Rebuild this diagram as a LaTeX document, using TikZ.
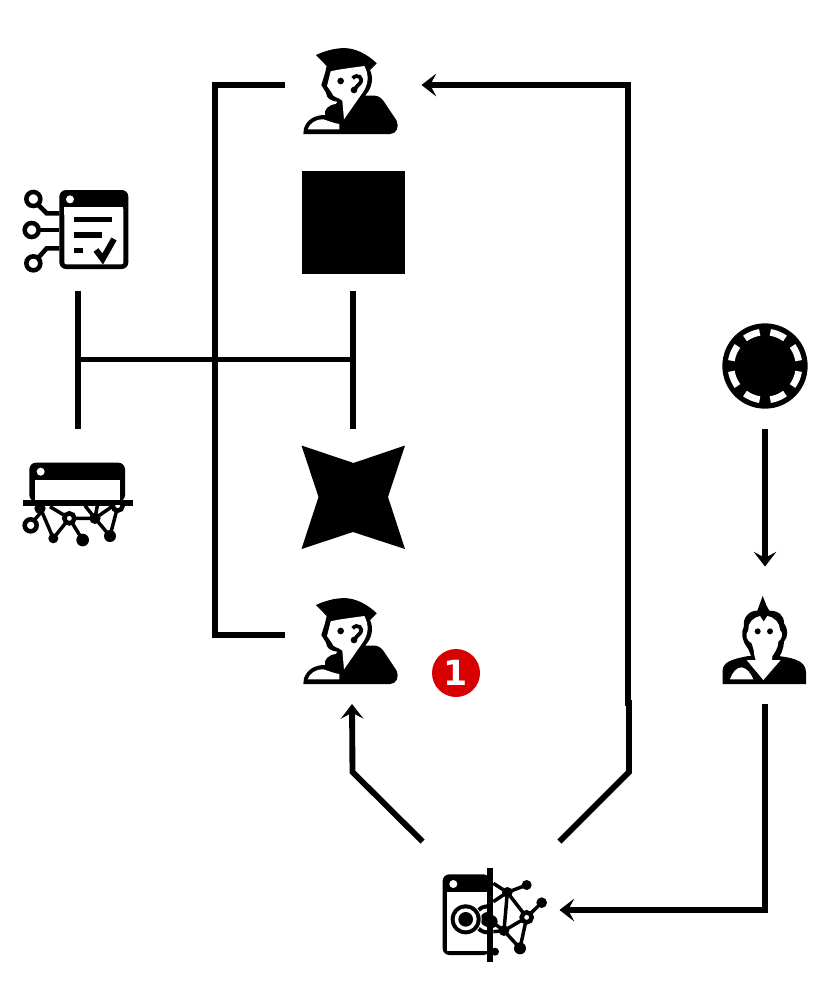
\documentclass[tikz,border=0pt]{standalone}
\usepackage{fontspec}
\setmainfont{DejaVu Sans}
\usetikzlibrary{arrows.meta}
\definecolor{badgered}{HTML}{D80000}
\tikzset{
  iconbox/.style={inner sep=0pt,outer sep=0pt,minimum width=102.75pt,minimum height=102.75pt},
  conn/.style={line width=4.4pt,line join=miter},
  arrowconn/.style={conn,-{Stealth[length=11pt,width=17pt,inset=4.5pt]}},
  zoomed/.style={x=.25pt,y=-.25pt},
  wire/.style={line width=2.6pt},
  ringline/.style={line width=3.4pt},
}
\newcommand{\personicon}[2]{%
\begin{scope}[shift={(#1,#2)},zoomed]
\fill[black] (108,75) .. controls (140,60) and (175,52) .. (205,55) .. controls (240,60) and (270,80) .. (290,100) -- (270,120) .. controls (282,145) and (276,175) .. (255,197) -- (285,197) .. controls (297,198) and (305,205) .. (312,215) -- (350,272) .. controls (358,290) and (350,312) .. (330,312) -- (70,312) -- (72,295) .. controls (80,272) and (100,255) .. (135,255) .. controls (132,238) and (145,225) .. (168,222) -- (172,215) .. controls (150,212) and (140,205) .. (138,188) -- (124,165) -- (135,130) -- (140,108) -- cycle;
\fill[white] (152,124) .. controls (175,118) and (225,112) .. (253,108) .. controls (268,135) and (266,165) .. (245,192) -- (192,268) -- (187,212) .. controls (175,200) and (160,205) .. (155,188) -- (141,168) -- cycle;
\fill[white] (83,298) .. controls (90,280) and (105,268) .. (130,268) .. controls (145,272) and (160,280) .. (178,282) -- (178,298) -- cycle;
\fill[black] (182,153) circle (10);
\draw[black,line width=2.8pt] (218,145) .. controls (232,128) and (252,145) .. (240,160) .. controls (234,167) and (228,170) .. (224,178);
\fill[black] (222,180) circle (10);
\end{scope}}
\newcommand{\checklisticon}{%
\begin{scope}[shift={(10,175)},zoomed]
\fill[black,rounded corners=5pt] (148,45) rectangle (355,282);
\fill[white,rounded corners=1.5pt] (163,97) rectangle (340,268);
\fill[white] (163,97) rectangle (340,120);
\fill[white] (180,73) circle (12);
\fill[black] (192,125) rectangle (307,142);
\fill[black] (192,172) rectangle (275,188);
\fill[black] (192,218) rectangle (220,235);
\draw[black,line width=4.5pt] (258,225) -- (278,252) -- (312,192);
\draw[black,ringline] (70,72) circle (21);
\draw[black,ringline] (65,165) circle (21);
\draw[black,ringline] (70,265) circle (21);
\draw[black,ringline] (85,90) -- (110,115) -- (148,115);
\draw[black,ringline] (86,165) -- (148,165);
\draw[black,ringline] (85,248) -- (110,220) -- (148,220);
\end{scope}}
\newcommand{\networkicon}{%
\begin{scope}[shift={(10,450)},zoomed]
\fill[black,rounded corners=5pt] (58,38) rectangle (345,155);
\fill[white] (75,90) rectangle (330,150);
\fill[white] (92,65) circle (12);
\fill[black] (38,150) rectangle (370,167);
\draw[black,wire] (90,172) -- (130,265) -- (178,205) -- (218,270);
\draw[black,wire] (120,170) -- (178,205) -- (255,205) -- (300,258) -- (323,170);
\draw[black,wire] (225,167) -- (255,205) -- (262,167);
\draw[black,wire] (255,205) -- (310,167);
\draw[black,wire] (72,212) -- (90,190);
\fill[black] (90,175) circle (17);
\fill[black] (130,265) circle (15);
\fill[black] (218,270) circle (19);
\fill[black] (255,205) circle (17);
\fill[black] (300,258) circle (18);
\draw[black,ringline,fill=white] (62,226) circle (18);
\draw[black,ringline,fill=white] (178,205) circle (15);
\begin{scope}
\clip (290,167) rectangle (350,200);
\draw[black,ringline,fill=white] (323,167) circle (15);
\end{scope}
\end{scope}}
\newcommand{\devicenet}{%
\begin{scope}[shift={(430,860)},zoomed]
\fill[black,rounded corners=5pt] (38,43) rectangle (180,285);
\fill[white] (52,97) rectangle (172,272);
\fill[white] (70,72) circle (12);
\begin{scope}
\clip (120,120) rectangle (172,240);
\fill[black] (173,178) circle (45);
\fill[white] (173,178) circle (33);
\fill[black] (173,178) circle (22);
\end{scope}
\fill[white] (107,178) circle (48);
\fill[black] (107,178) circle (45);
\fill[white] (107,178) circle (33);
\fill[black] (107,178) circle (22);
\draw[black,wire] (190,70) -- (232,97) -- (290,75);
\draw[black,wire] (190,125) -- (232,97) -- (222,212) -- (178,180);
\draw[black,wire] (232,97) -- (290,172) -- (335,128);
\draw[black,wire] (290,172) -- (222,212) -- (270,265) -- (290,172);
\draw[black,wire] (222,212) -- (190,215);
\fill[black] (232,97) circle (16);
\fill[black] (290,75) circle (15);
\fill[black] (335,128) circle (16);
\fill[black] (222,212) circle (16);
\fill[black] (270,265) circle (18);
\fill[black] (195,275) circle (12);
\fill[black] (183,185) circle (20);
\draw[black,ringline,fill=white] (290,172) circle (15);
\fill[black] (172,25) rectangle (190,305);
\end{scope}}
\newcommand{\discicon}{%
\begin{scope}[shift={(710,310)},zoomed]
\fill[black] (165,168) circle (128);
\foreach \a in {0,90,180,270}{
  \draw[white,line width=5pt] plot[domain=\a+9:\a+36,samples=10] ({165+102*cos(\x)},{168-102*sin(\x)});
  \draw[white,line width=5pt] plot[domain=\a+54:\a+81,samples=10] ({165+102*cos(\x)},{168-102*sin(\x)});
}
\end{scope}}
\newcommand{\punkicon}{%
\begin{scope}[shift={(710,590)},zoomed]
\fill[black] (38,282) -- (38,240) .. controls (40,218) and (60,208) .. (115,198) -- (205,198) .. controls (260,205) and (285,215) .. (288,245) -- (288,282) -- cycle;
\fill[black] (158,18) -- (170,48) -- (178,62) .. controls (205,62) and (222,75) .. (222,100) .. controls (235,118) and (235,140) .. (222,155) .. controls (220,180) and (212,195) .. (205,205) -- (125,205) .. controls (122,195) and (118,180) .. (110,170) .. controls (95,150) and (93,125) .. (102,108) .. controls (98,85) and (115,62) .. (142,62) -- cycle;
\fill[white] (115,120) .. controls (112,100) and (130,82) .. (150,78) -- (161,95) -- (172,78) .. controls (195,82) and (210,100) .. (210,120) .. controls (222,130) and (215,148) .. (205,155) .. controls (205,175) and (192,190) .. (187,198) -- (186,214) -- (138,214) -- (133,195) .. controls (132,180) and (128,170) .. (125,160) .. controls (108,150) and (105,135) .. (115,120) -- cycle;
\fill[white] (110,210) -- (212,210) -- (160,270) -- cycle;
\fill[white] (60,268) .. controls (68,245) and (80,232) .. (95,232) .. controls (112,235) and (122,250) .. (130,268) -- cycle;
\fill[black] (143,124) circle (9);
\fill[black] (180,124) circle (9);
\end{scope}}
\begin{document}
\begin{tikzpicture}[x=.75pt,y=-.75pt]
\useasboundingbox (0,0) rectangle (832,1000);
\node[iconbox] (person1) at (353,85) {};
\node[iconbox] (square) at (353,222) {};
\node[iconbox] (checklist) at (78,222) {};
\node[iconbox] (network) at (78,497) {};
\node[iconbox] (star) at (353,497) {};
\node[iconbox] (person2) at (353,635) {};
\node[iconbox] (disc) at (765,360) {};
\node[iconbox] (punk) at (765,635) {};
\node[iconbox] (device) at (491,910) {};
\personicon{280}{30}
\personicon{280}{580}
\checklisticon
\networkicon
\devicenet
\discicon
\punkicon
\fill[black] (301.5,170.5) rectangle (405,274);
\fill[black] (301.5,445.5) -- (353.5,463) -- (405,445.5) -- (388,497) -- (405,549) -- (353,532) -- (301.5,549) -- (318.5,497) -- cycle;
\node[circle,fill=badgered,minimum size=36pt,inner sep=0pt,text=white,font=\bfseries\fontsize{26}{26}\selectfont] (badge) at (456,673) {1};
\draw[conn] (checklist.south) -- (network.north) coordinate[midway] (jl);
\draw[conn] (square.south) -- (star.north) coordinate[midway] (jr);
\draw[conn] (jl) -- (jr);
\draw[conn] (person1.west) -- (215,85) -- (215,635) -- (person2.west);
\draw[arrowconn] (device.north east) -- (629,772) -- (629,703) -- (628,703) -- (628,85) -- (person1.east);
\draw[arrowconn] (device.north west) -- (352.5,772) -- (352,704);
\draw[arrowconn] (disc.south) -- (punk.north);
\draw[arrowconn] (punk.south) -- (765,910) -- (device.east);
\end{tikzpicture}
\end{document}
